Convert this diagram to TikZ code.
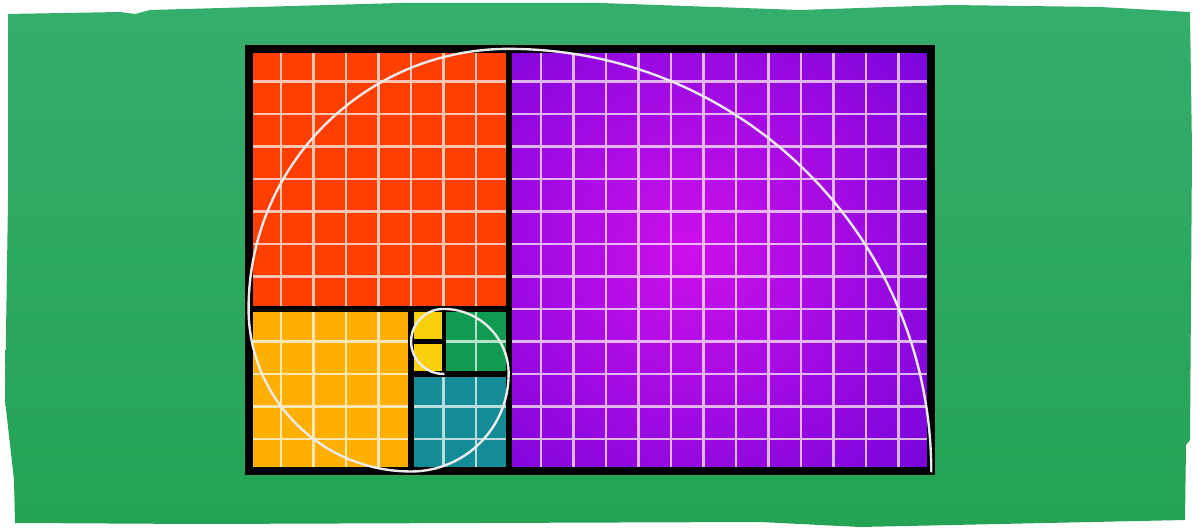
\documentclass[tikz,border=0pt]{standalone}

\definecolor{washtop}{RGB}{52,174,108}
\definecolor{washbottom}{RGB}{36,163,84}
\definecolor{redsq}{RGB}{255,62,0}
\definecolor{orangesq}{RGB}{255,175,0}
\definecolor{tealsq}{RGB}{20,140,152}
\definecolor{greensq}{RGB}{15,155,80}
\definecolor{lemonsq}{RGB}{250,208,10}
\definecolor{purpleglow}{RGB}{205,15,235}
\definecolor{purpledeep}{RGB}{118,5,218}

\begin{document}
\begin{tikzpicture}[
    x=0.025cm, y=0.025cm,
    gridline/.style={white, opacity=0.7, line width=1.8pt, step=0.8125cm},
    frame/.style={black, line width=5.7pt},
    divider/.style={black, line width=4.3pt},
    thindivider/.style={black, line width=3pt},
    spiral/.style={white!92!black, line width=1.7pt, line cap=round}
]
\useasboundingbox (0,0) rectangle (1203,532);

% Watercolour wash
\shade[top color=washtop, bottom color=washbottom]
    (8,518) -- (120,520) -- (135,518) -- (150,522) -- (400,529) -- (600,529)
    -- (800,522) -- (950,527) -- (1100,525) -- (1190,520) -- (1192,382)
    -- (1190,92) -- (1186,87) -- (1185,12) -- (860,5) -- (760,10)
    -- (200,8) -- (15,9) -- (14,52) -- (5,132) -- (8,332) -- cycle;

\begin{scope}[shift={(6.2125cm,1.5125cm)}, x=0.8125cm, y=0.8125cm]

% Squares
\fill[redsq] (0,5) rectangle (8,13);
\begin{scope}
    \clip (8,0) rectangle (21,13);
    \shade[inner color=purpleglow, outer color=purpledeep] (13.6,6.8) circle (10);
\end{scope}
\fill[orangesq] (0,0) rectangle (5,5);
\fill[tealsq] (5,0) rectangle (8,3);
\fill[greensq] (6,3) rectangle (8,5);
\fill[lemonsq] (5,3) rectangle (6,5);

% Grid
\draw[gridline] (0,5) grid (8,13);
\draw[gridline] (8,0) grid (21,13);
\draw[gridline] (0,0) grid (5,5);
\draw[gridline] (5,0) grid (8,3);
\draw[gridline] (6,3) grid (8,5);

% Borders
\draw[divider] (8,0) -- (8,13);
\draw[divider] (0,5) -- (8,5);
\draw[divider] (5,0) -- (5,5);
\draw[divider] (5,3) -- (8,3);
\draw[thindivider] (6,3) -- (6,5);
\draw[thindivider] (5,4) -- (6,4);
\draw[frame] (0,0) rectangle (21,13);

% Spiral
\draw[spiral] (21,0)
    arc[start angle=0, end angle=90, radius=13]
    arc[start angle=90, end angle=180, radius=8]
    arc[start angle=180, end angle=270, radius=5]
    arc[start angle=270, end angle=360, radius=3]
    arc[start angle=0, end angle=90, radius=2]
    arc[start angle=90, end angle=180, radius=1]
    arc[start angle=180, end angle=270, radius=1];

\end{scope}
\end{tikzpicture}
\end{document}
